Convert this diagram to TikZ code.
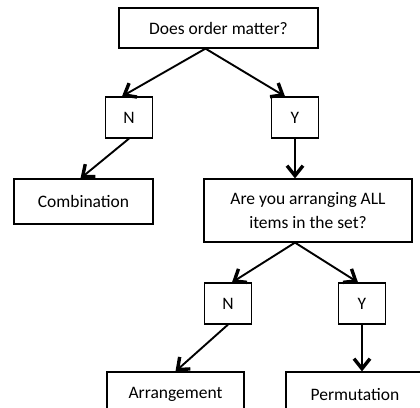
\documentclass[tikz,border=0pt]{standalone}
\usepackage{fontspec}
\setmainfont{Carlito}
\usetikzlibrary{arrows.meta}

\tikzset{
  box/.style={draw, line width=1.2pt, inner sep=0pt, align=center,
    font=\fontsize{17.5}{23.5}\selectfont},
  yn/.style={box, minimum width=47pt, minimum height=41pt},
  link/.style={line width=1.9pt,
    -{Straight Barb[length=10pt,width=16pt,line width=3.4pt]}}
}

\begin{document}
\begin{tikzpicture}[x=1pt,y=-1pt]
    \clip (0,0) rectangle (420,407);
    \useasboundingbox (0,0) rectangle (420,407);
    % question boxes
    \node[box, minimum width=199pt, minimum height=40pt] (order) at (218.5,28) {Does order matter?};
    \node[yn] (n1) at (129,117.5) {N};
    \node[yn] (y1) at (295,117.5) {Y};
    \node[box, minimum width=139pt, minimum height=45pt] (comb) at (83.5,201.5) {Combination};
    \node[box, minimum width=208pt, minimum height=63pt] (all) at (308,210.5) {Are you arranging ALL\\items in the set?};
    \node[yn] (n2) at (228,303.5) {N};
    \node[yn] (y2) at (362,303.5) {Y};
    % answers
    \node[box, minimum width=137pt, minimum height=45pt] (arr) at (175.5,394.5) {Arrangement};
    \node[box, minimum width=138pt, minimum height=45pt] (perm) at (355,394.5) {Permutation};
    % connectors
    \draw[link] ([xshift=-13pt]order.south) -- ([xshift=-7pt]n1.north);
    \draw[link] ([xshift=-13pt]order.south) -- ([xshift=-10pt]y1.north);
    \draw[link] (n1.south) -- ([xshift=-3pt]comb.north);
    \draw[link] (y1.south) -- (y1.south |- all.north);
    \draw[link] ([xshift=-13pt]all.south) -- ([xshift=4pt]n2.north);
    \draw[link] ([xshift=-13pt]all.south) -- ([xshift=-4pt]y2.north);
    \draw[link] (n2.south) -- (arr.north);
    \draw[link] (y2.south) -- (y2.south |- perm.north);
\end{tikzpicture}
\end{document}
